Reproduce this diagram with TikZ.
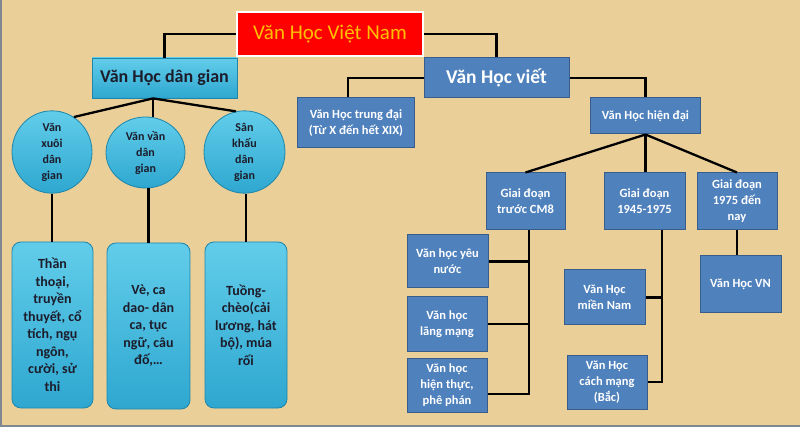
\documentclass[tikz,border=0pt]{standalone}
\usepackage{fontspec}
\setmainfont{Carlito}
\usetikzlibrary{calc,shapes.geometric}
\definecolor{bgc}{HTML}{EBCF98}
\definecolor{bluef}{HTML}{4F81BD}
\definecolor{blued}{HTML}{385D8A}
\definecolor{cyant}{HTML}{62CDEA}
\definecolor{cyanb}{HTML}{2EA7D0}
\definecolor{cyand}{HTML}{1E86AA}
\definecolor{darktxt}{HTML}{1C1C2A}
\definecolor{titletxt}{HTML}{FFC000}
\definecolor{framec}{HTML}{7F8790}
\tikzset{
  bbox/.style={draw=blued, line width=1pt, fill=bluef, text=white, align=center, inner sep=0pt,
    font=\bfseries\fontsize{12.5}{16}\selectfont},
  cbox/.style={draw=cyand, line width=0.8pt, top color=cyant, bottom color=cyanb, text=darktxt, align=center, inner sep=0pt},
  cround/.style={cbox, rounded corners=9pt, minimum width=81pt, minimum height=166pt,
    font=\bfseries\fontsize{14}{17.5}\selectfont},
  cell/.style={cbox, ellipse, minimum width=80pt, minimum height=72pt,
    font=\bfseries\fontsize{12}{16}\selectfont},
  conn/.style={draw=black, line width=2.3pt},
}
\begin{document}
\begin{tikzpicture}[x=1pt,y=-1pt]
\fill[bgc] (0,0) rectangle (800,427);
\useasboundingbox (0,0) rectangle (800,427);
\fill[framec] (0,0) rectangle (2,427);
\fill[framec] (0,425) rectangle (800,427);

% nodes
\node[draw=white, line width=2pt, fill=red, text=titletxt, minimum width=186pt, minimum height=44pt,
  font=\fontsize{21}{25}\selectfont] (title) at (330,34) {Văn Học Việt Nam};
\node[cbox, minimum width=145pt, minimum height=40pt, font=\bfseries\fontsize{18}{21}\selectfont] (dg) at (164.5,78) {Văn Học dân gian};
\node[bbox, minimum width=145pt, minimum height=40pt, font=\bfseries\fontsize{19.5}{22}\selectfont] (viet) at (496.5,78) {Văn Học viết};
\node[bbox, minimum width=117pt, minimum height=50pt] (trung) at (356,123) {Văn Học trung đại\\(Từ X đến hết XIX)};
\node[bbox, minimum width=110pt, minimum height=36pt] (hiendai) at (645.5,116) {Văn Học hiện đại};
\node[bbox, minimum width=79pt, minimum height=57pt] (cm8) at (525.5,201.5) {Giai đoạn\\trước CM8};
\node[bbox, minimum width=81pt, minimum height=57pt] (g45) at (644.5,201.5) {Giai đoạn\\1945-1975};
\node[bbox, minimum width=80pt, minimum height=57pt] (g75) at (737,201.5) {Giai đoạn\\1975  đến\\nay};
\node[bbox, minimum width=81pt, minimum height=53pt] (yeu) at (447.5,261.5) {Văn học yêu\\nước};
\node[bbox, minimum width=80pt, minimum height=54pt] (lang) at (447,324) {Văn học\\lãng mạng};
\node[bbox, minimum width=80pt, minimum height=54pt] (hien) at (447,385) {Văn học\\hiện thực,\\phê phán};
\node[bbox, minimum width=81pt, minimum height=55pt] (mien) at (604.5,297.5) {Văn Học\\miền Nam};
\node[bbox, minimum width=80pt, minimum height=54pt] (cach) at (607,382) {Văn Học\\cách mạng\\(Bắc)};
\node[bbox, minimum width=81pt, minimum height=57pt] (vn) at (740.5,284.5) {Văn Học VN};

\node[cell] (c1) at (52,152) {Văn\\xuôi\\dân\\gian};
\node[cell, minimum width=79pt, minimum height=71pt] (c2) at (145.5,152.5) {Văn vần\\dân\\gian};
\node[cell, minimum width=81pt] (c3) at (244.5,152) {Sân\\khấu\\dân\\gian};

\node[cround] (r1) at (52.5,325) {Thần\\thoại,\\truyền\\thuyết, cổ\\tích, ngụ\\ngôn,\\cười, sử\\thi};
\node[cround, minimum width=83pt] (r2) at (148.5,326) {Vè, ca\\dao- dân\\ca, tục\\ngữ, câu\\đố,…};
\node[cround, minimum width=82pt] (r3) at (246,325) {Tuồng-\\chèo(cải\\lương, hát\\bộ), múa\\rối};

% connectors
\coordinate (apex) at ($(dg.south)+(-11.5,0)$);
\coordinate (sp1) at ($(cm8.south)+(3.5,0)$);
\coordinate (sp2) at ($(g45.south)+(17.5,0)$);
\draw[conn] (title.west) -| (dg.north);
\draw[conn] (title.east) -| (viet.north);
\draw[conn] (viet.west) -| ($(trung.north)+(-8,0)$);
\draw[conn] (viet.east) -| (hiendai.north);
\draw[conn] (hiendai.south) -- (cm8.north);
\draw[conn] (hiendai.south) -- (hiendai.south |- g45.north);
\draw[conn] (hiendai.south) -- (g75.north);
\draw[conn] (sp1) |- ($(hien.east)+(0,9)$);
\draw[conn] (yeu.east) -| (sp1);
\draw[conn] (lang.east) -| (sp1);
\draw[conn] (sp2) |- (cach.east);
\draw[conn] (mien.east) -| (sp2);
\draw[conn] (g75.south) -- (g75.south |- vn.north);
\draw[conn] (apex) -- (c1.58);
\draw[conn] (apex) -- (apex |- c2.north);
\draw[conn] (apex) -- (c3.102);
\draw[conn] (c1.south) -- (c1.south |- r1.north);
\draw[conn] (r2.north) -- (r2.north |- c2.south);
\draw[conn] (r3.north) -- (r3.north |- c3.south);
\end{tikzpicture}
\end{document}
